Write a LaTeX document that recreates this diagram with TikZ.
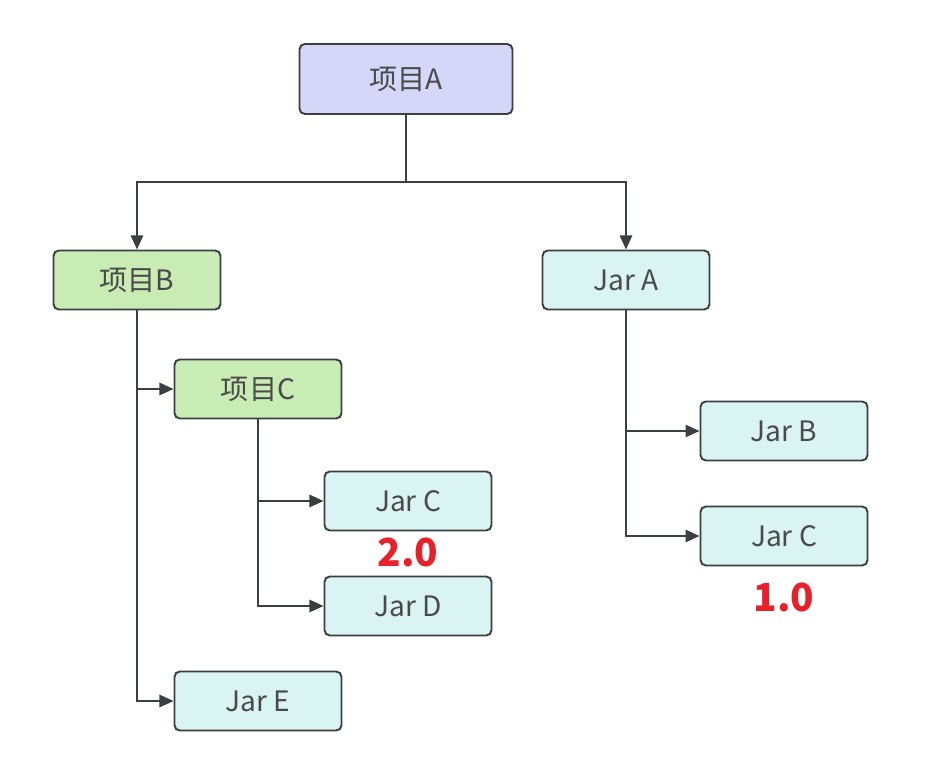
\documentclass[tikz,border=0pt]{standalone}
\usepackage{fontspec}
\setmainfont{Noto Sans CJK SC}
\usetikzlibrary{arrows.meta, positioning}
\definecolor{BoxLine}{HTML}{3C3F41}
\definecolor{TextGray}{HTML}{4A4A4A}
\definecolor{LightPurple}{HTML}{D5D6F8}
\definecolor{LightGreen}{HTML}{C8ECB4}
\definecolor{LightCyan}{HTML}{DAF4F3}
\definecolor{VersionRed}{HTML}{E8202A}

\begin{document}
\begin{tikzpicture}[
    x=0.02cm, y=-0.02cm,
    flow/.style={-{Triangle[length=8pt, width=7pt]}, line width=1.1pt, BoxLine},
    box/.style={draw=BoxLine, line width=1.1pt, rounded corners=3pt, text=TextGray,
        font=\fontsize{16}{18}\selectfont, minimum width=3.34cm, minimum height=1.18cm},
    project/.style={box, fill=LightGreen},
    jar/.style={box, fill=LightCyan},
    version/.style={text=VersionRed, font=\fontsize{22}{24}\selectfont\bfseries},
]
\useasboundingbox (0,0) rectangle (940,783);

% --- project A at the top ---
\node[box, fill=LightPurple, minimum width=4.26cm, minimum height=1.4cm] (pa) at (406,79) {项目A};
\coordinate (split) at (406,182);

% --- left branch: 项目B ---
\node[project] (pb) at (137,280) {项目B};
\node[project] (pc) at (258,389) {项目C};
\node[jar] (jcl) at (408,501) {Jar C};
\node[jar] (jd) at (408,606) {Jar D};
\node[jar] (je) at (258,701) {Jar E};
\node[version, below=0.0cm of jcl] (vl) {2.0};

% --- right branch: Jar A ---
\node[jar] (ja) at (626,280) {Jar A};
\node[jar] (jb) at (784,431) {Jar B};
\node[jar] (jcr) at (784,536) {Jar C};
\node[version, below=0.2cm of jcr] (vr) {1.0};

% --- dependencies ---
\draw[BoxLine, line width=1.1pt] (pa) -- (split);
\draw[flow] (split) -| (pb.north);
\draw[flow] (split) -| (ja.north);

\draw[flow] (pb.south) |- (pc.west);
\draw[flow] (pb.south) |- (je.west);
\draw[flow] (pc.south) |- (jcl.west);
\draw[flow] (pc.south) |- (jd.west);

\draw[flow] (ja.south) |- (jb.west);
\draw[flow] (ja.south) |- (jcr.west);

\end{tikzpicture}
\end{document}
